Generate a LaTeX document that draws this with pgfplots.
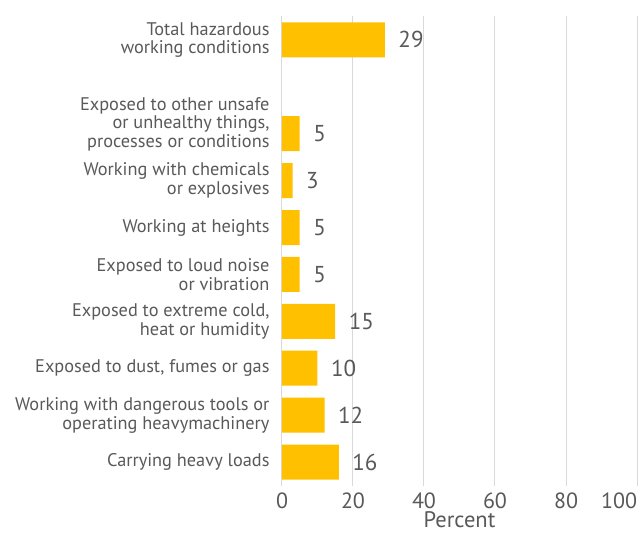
\documentclass[border=0pt]{standalone}
\usepackage{pgfplots}
\pgfplotsset{compat=1.18}
\usepackage{fontspec}
\setmainfont{PT Sans}
\definecolor{bar}{HTML}{FFC000}
\definecolor{txt}{HTML}{595959}
\definecolor{grd}{HTML}{D9D9D9}
\begin{document}
\begin{tikzpicture}
\path[use as bounding box] (-282bp,-53.5bp) rectangle (358bp,485.5bp);
\begin{axis}[
  at={(0,0)}, anchor=south west,
  scale only axis, width=355bp, height=469bp,
  xbar, bar width=35bp,
  xmin=0, xmax=100, ymin=-0.5, ymax=9.5,
  xtick={0,20,40,60,80,100},
  xticklabels={0,20,40,60,80,{\makebox[0pt][r]{100}}},
  ytick={0,1,2,3,4,5,6,7.2,9},
  yticklabels={Carrying heavy loads,
    {Working with dangerous tools or\\operating heavymachinery},
    {Exposed to dust, fumes or gas},
    {Exposed to extreme cold,\\heat or humidity},
    {Exposed to loud noise\\or vibration},
    {Working at heights},
    {Working with chemicals\\or explosives},
    {Exposed to other unsafe\\or unhealthy things,\\processes or conditions},
    {Total hazardous\\working conditions}},
  yticklabel style={align=right, font=\fontsize{18.3bp}{18.8bp}\selectfont, text=txt, xshift=-9bp},
  xticklabel style={font=\fontsize{22bp}{25bp}\selectfont, text=txt, yshift=-4bp},
  xlabel={Percent}, xlabel style={font=\fontsize{22.5bp}{25bp}\selectfont, text=txt, yshift=4bp},
  axis line style={draw=none},
  major tick length=0pt,
  xmajorgrids, grid style={grd, line width=1bp},
  /pgf/number format/assume math mode=true,
  nodes near coords,
  nodes near coords style={anchor=west, xshift=10bp, font=\fontsize{23bp}{26bp}\selectfont, text=txt},
]
\addplot[fill=bar, draw=none] coordinates {
 (16,0) (12,1) (10,2) (15,3) (5,4) (5,5) (3,6) (5,7) (29,9)};
\end{axis}
\end{tikzpicture}
\end{document}
